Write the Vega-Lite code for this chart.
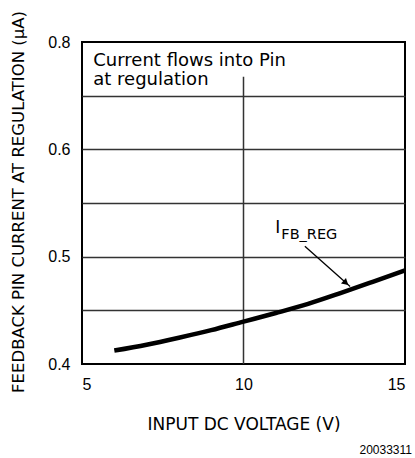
{
  "$schema": "https://vega.github.io/schema/vega-lite/v6.json",
  "width": 323,
  "height": 322,
  "autosize": {"type": "none"},
  "padding": {"left": 82, "top": 42, "right": 10, "bottom": 94},
  "background": "white",
  "view": {"stroke": "black", "strokeWidth": 2},
  "config": {
    "font": "DejaVu Sans"
  },
  "title": {
    "text": "20033311",
    "orient": "bottom",
    "anchor": "end",
    "frame": "group",
    "font": "Liberation Sans",
    "fontSize": 12,
    "fontWeight": "normal",
    "color": "black",
    "offset": 13,
    "dx": 7
  },
  "datasets": {
    "curve": [
      {"v": 6, "i": 0.4125},
      {"v": 7, "i": 0.418},
      {"v": 8, "i": 0.4245},
      {"v": 9, "i": 0.4315},
      {"v": 10, "i": 0.4395},
      {"v": 11, "i": 0.4475},
      {"v": 12, "i": 0.456},
      {"v": 13, "i": 0.466},
      {"v": 14, "i": 0.4765},
      {"v": 15, "i": 0.4872}
    ],
    "vline": [{"v": 10, "y1": 0.4, "y2": 0.735}],
    "note": [
      {"v": 5.35, "i": 0.7551, "t": "Current flows into Pin"},
      {"v": 5.35, "i": 0.7196, "t": "at regulation"}
    ],
    "lblI": [{"v": 10.98, "i": 0.5224, "t": "I"}],
    "lblSub": [{"v": 11.17, "i": 0.5168, "t": "FB_REG"}],
    "arrow": [
      {"v": 11.9, "i": 0.5096},
      {"v": 13.3, "i": 0.4722}
    ],
    "head": [{"v": 13.17, "i": 0.4755}]
  },
  "encoding": {
    "x": {
      "field": "v",
      "type": "quantitative",
      "scale": {"domain": [5, 15], "nice": false, "zero": false},
      "axis": {
        "title": "INPUT DC VOLTAGE (V)",
        "values": [5, 10, 15],
        "grid": false,
        "ticks": false,
        "domain": false,
        "labelFont": "Liberation Sans",
        "labelFontSize": 16,
        "labelColor": "black",
        "labelPadding": 12,
        "titleFont": "DejaVu Sans",
        "titleFontSize": 17,
        "titleFontWeight": "normal",
        "titleColor": "black",
        "titleX": 161.5,
        "titleY": 65,
        "titleBaseline": "alphabetic"
      }
    },
    "y": {
      "field": "i",
      "type": "quantitative",
      "scale": {"domain": [0.4, 0.6, 0.8], "range": [322, 107.3, 0], "zero": false, "nice": false},
      "axis": {
        "title": "FEEDBACK PIN CURRENT AT REGULATION (μA)",
        "values": [0.4, 0.45, 0.5, 0.55, 0.6, 0.7, 0.8],
        "labelExpr": "(datum.value == 0.45 || datum.value == 0.55 || datum.value == 0.7) ? '' : format(datum.value, '.1f')",
        "grid": true,
        "gridColor": "#333333",
        "gridWidth": 1.5,
        "gridOpacity": {"condition": {"test": "datum.value == 0.4 || datum.value == 0.8", "value": 0}, "value": 1},
        "ticks": false,
        "domain": false,
        "labelFont": "Liberation Sans",
        "labelFontSize": 16,
        "labelColor": "black",
        "labelPadding": 12,
        "titleFont": "DejaVu Sans",
        "titleFontSize": 16.5,
        "titleFontWeight": "normal",
        "titleColor": "black",
        "titleX": -64,
        "titleY": 159.5,
        "titleAlign": "center",
        "titleBaseline": "middle",
        "titleAngle": -90
      }
    }
  },
  "layer": [
    {
      "data": {"name": "vline"},
      "mark": {"type": "rule", "color": "#333333", "strokeWidth": 1.5},
      "encoding": {
        "y": {"field": "y1", "type": "quantitative"},
        "y2": {"field": "y2"}
      }
    },
    {
      "data": {"name": "curve"},
      "mark": {"type": "line", "color": "black", "strokeWidth": 4.5, "interpolate": "monotone", "strokeCap": "butt"}
    },
    {
      "data": {"name": "arrow"},
      "mark": {"type": "line", "color": "black", "strokeWidth": 1.3}
    },
    {
      "data": {"name": "head"},
      "mark": {"type": "point", "shape": "triangle-up", "filled": true, "color": "black", "opacity": 1, "size": 55, "angle": 132}
    },
    {
      "data": {"name": "note"},
      "mark": {"type": "text", "align": "left", "baseline": "alphabetic", "fontSize": 18, "font": "DejaVu Sans", "color": "black"},
      "encoding": {"text": {"field": "t"}}
    },
    {
      "data": {"name": "lblI"},
      "mark": {"type": "text", "align": "left", "baseline": "alphabetic", "fontSize": 17, "font": "DejaVu Sans", "color": "black"},
      "encoding": {"text": {"field": "t"}}
    },
    {
      "data": {"name": "lblSub"},
      "mark": {"type": "text", "align": "left", "baseline": "alphabetic", "fontSize": 14.5, "font": "DejaVu Sans", "color": "black"},
      "encoding": {"text": {"field": "t"}}
    }
  ]
}
